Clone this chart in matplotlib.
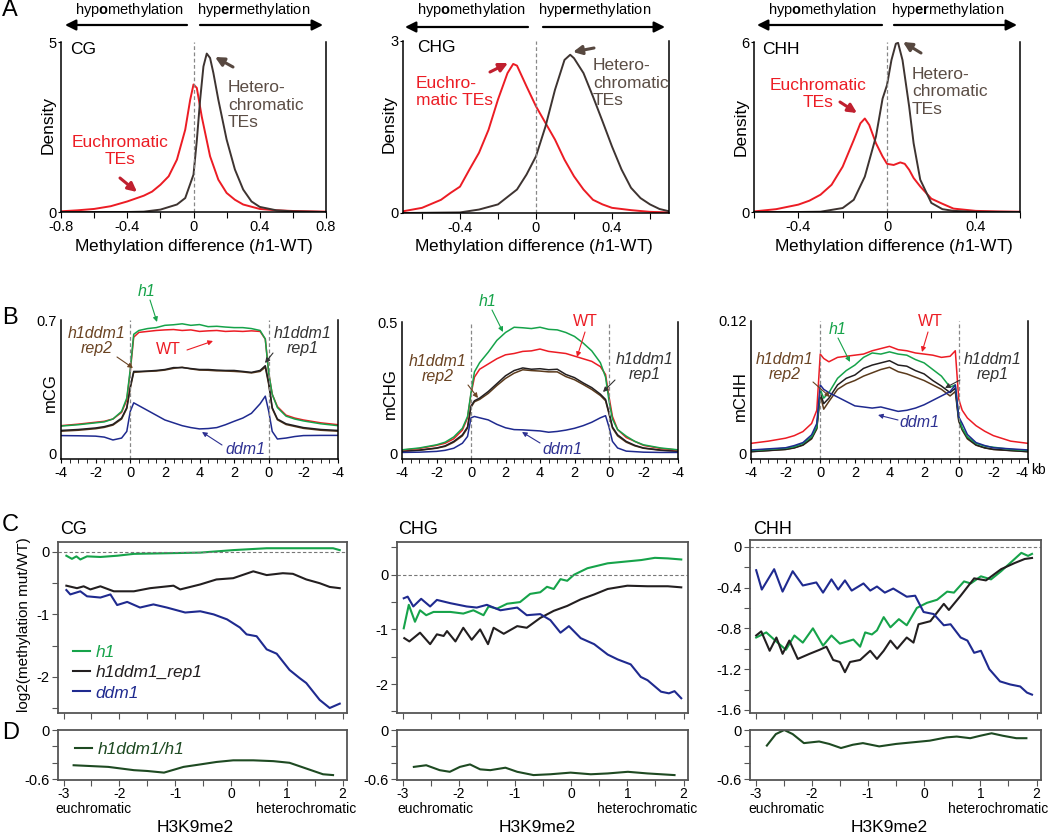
import numpy as np
import matplotlib
matplotlib.use('Agg')
import matplotlib.pyplot as plt
from matplotlib.ticker import MultipleLocator

plt.rcParams['font.family'] = ['Liberation Sans', 'DejaVu Sans']
plt.rcParams['mathtext.fontset'] = 'custom'
plt.rcParams['mathtext.rm'] = 'Liberation Sans'
plt.rcParams['mathtext.it'] = 'Liberation Sans:italic'
plt.rcParams['mathtext.bf'] = 'Liberation Sans:bold'
plt.rcParams['axes.unicode_minus'] = False

# ---------------- A : density of methylation difference (h1-WT)
cg_eu_x = [-0.8, -0.7, -0.6, -0.5, -0.4, -0.3, -0.25, -0.2, -0.15, -0.1, -0.05, -0.02, 0, 0.02, 0.05, 0.1, 0.15, 0.2, 0.25, 0.3, 0.4, 0.5, 0.6, 0.7, 0.8]
cg_eu_y = [0.02, 0.05, 0.09, 0.17, 0.31, 0.48, 0.6, 0.8, 1.05, 1.54, 2.42, 3.3, 3.75, 3.65, 2.8, 1.64, 0.95, 0.56, 0.36, 0.22, 0.09, 0.05, 0.03, 0.02, 0.01]
cg_he_x = [-0.8, -0.4, -0.3, -0.2, -0.1, -0.05, 0, 0.02, 0.04, 0.06, 0.08, 0.1, 0.12, 0.15, 0.2, 0.25, 0.3, 0.35, 0.4, 0.5, 0.6, 0.8]
cg_he_y = [0.0, 0.0, 0.01, 0.07, 0.22, 0.41, 1.1, 2.1, 3.3, 4.28, 4.66, 4.53, 4.09, 3.3, 2.13, 1.25, 0.66, 0.31, 0.15, 0.05, 0.02, 0.0]

chg_eu_x = [-0.7, -0.6, -0.5, -0.45, -0.4, -0.35, -0.3, -0.25, -0.2, -0.15, -0.12, -0.1, -0.05, 0, 0.05, 0.1, 0.15, 0.2, 0.25, 0.3, 0.35, 0.4, 0.5, 0.6, 0.7]
chg_eu_y = [0.03, 0.09, 0.23, 0.35, 0.46, 0.76, 1.05, 1.45, 1.98, 2.44, 2.6, 2.57, 2.21, 1.86, 1.57, 1.28, 0.93, 0.64, 0.41, 0.23, 0.15, 0.09, 0.05, 0.02, 0.01]
chg_he_x = [-0.7, -0.4, -0.3, -0.2, -0.1, -0.05, 0, 0.05, 0.1, 0.15, 0.18, 0.2, 0.25, 0.3, 0.35, 0.4, 0.45, 0.5, 0.55, 0.6, 0.65, 0.7]
chg_he_y = [0.0, 0.01, 0.06, 0.15, 0.41, 0.67, 0.99, 1.51, 2.15, 2.67, 2.76, 2.7, 2.44, 2.03, 1.6, 1.16, 0.76, 0.44, 0.26, 0.15, 0.07, 0.03]

chh_eu_x = [-0.6, -0.5, -0.4, -0.35, -0.3, -0.25, -0.2, -0.15, -0.12, -0.1, -0.08, -0.05, -0.02, 0, 0.03, 0.06, 0.08, 0.1, 0.12, 0.15, 0.2, 0.25, 0.3, 0.4, 0.5, 0.6]
chh_eu_y = [0.02, 0.1, 0.26, 0.4, 0.61, 0.96, 1.6, 2.54, 3.13, 3.3, 3.07, 2.43, 1.96, 1.7, 1.66, 1.75, 1.7, 1.49, 1.2, 0.9, 0.47, 0.29, 0.12, 0.04, 0.02, 0.01]
chh_he_x = [-0.6, -0.4, -0.3, -0.2, -0.15, -0.1, -0.05, -0.02, 0, 0.02, 0.04, 0.05, 0.07, 0.1, 0.12, 0.15, 0.2, 0.25, 0.3, 0.4, 0.6]
chh_he_y = [0.0, 0.0, 0.01, 0.14, 0.43, 1.25, 2.66, 4.0, 4.48, 5.36, 5.94, 5.97, 5.36, 3.72, 2.43, 1.14, 0.32, 0.1, 0.04, 0.01, 0.0]

# ---------------- B : metaplots over TEs (upstream -4..0, body 0..4..0, downstream 0..-4)
b_pos = [-4, -3, -2, -1.5, -1, -0.5, -0.2, 0, 0.2, 0.5, 1, 1.5, 2, 2.5, 3, 3.5, 4, 4.5, 5, 5.5, 6, 6.5, 7, 7.5, 7.8, 8, 8.2, 8.5, 9, 9.5, 10, 11, 12]
b_tick_pos = [-4, -2, 0, 2, 4, 6, 8, 10, 12]
b_tick_lab = ['-4', '-2', '0', '2', '4', '2', '0', '-2', '-4']

mcg_h1 = [.143, .15, .16, .165, .18, .22, .29, .44, .625, .645, .655, .66, .672, .675, .68, .672, .676, .665, .667, .663, .66, .66, .655, .645, .6, .42, .31, .24, .195, .18, .17, .155, .145]
mcg_wt = [.145, .153, .163, .168, .18, .215, .28, .43, .61, .635, .64, .645, .648, .65, .645, .648, .64, .643, .645, .64, .642, .64, .643, .64, .6, .42, .31, .245, .2, .185, .175, .16, .15]
mcg_rep1 = [.12, .125, .133, .14, .152, .185, .24, .35, .43, .43, .432, .435, .44, .45, .45, .445, .44, .44, .437, .435, .435, .43, .425, .435, .46, .37, .24, .18, .155, .145, .135, .125, .12]
mcg_rep2 = [.116, .121, .129, .136, .148, .18, .235, .34, .425, .427, .43, .432, .437, .446, .452, .443, .437, .436, .433, .432, .43, .427, .422, .43, .452, .36, .235, .176, .151, .141, .131, .121, .116]
mcg_ddm1 = [.093, .092, .09, .085, .07, .08, .115, .22, .265, .25, .225, .2, .175, .16, .145, .135, .128, .13, .135, .15, .168, .185, .21, .26, .3, .22, .115, .075, .08, .088, .093, .094, .094]

mchg_h1 = [.013, .02, .032, .042, .062, .095, .14, .23, .31, .345, .385, .43, .46, .48, .478, .475, .48, .472, .47, .46, .445, .42, .39, .345, .29, .2, .13, .09, .065, .045, .032, .02, .013]
mchg_wt = [.012, .018, .03, .038, .055, .088, .135, .225, .29, .32, .34, .36, .375, .38, .388, .39, .397, .388, .384, .38, .37, .36, .35, .33, .3, .215, .14, .09, .06, .045, .03, .018, .012]
mchg_rep1 = [.008, .012, .02, .028, .045, .07, .1, .18, .2, .21, .235, .265, .295, .315, .325, .32, .322, .318, .32, .3, .288, .268, .25, .225, .205, .155, .1, .07, .045, .03, .02, .012, .008]
mchg_rep2 = [.007, .011, .019, .026, .042, .066, .096, .175, .196, .205, .228, .258, .285, .305, .318, .315, .313, .31, .31, .292, .28, .262, .243, .22, .2, .15, .096, .066, .042, .028, .019, .011, .007]
mchg_ddm1 = [.003, .004, .007, .011, .019, .038, .064, .135, .14, .135, .127, .11, .097, .09, .089, .087, .085, .08, .083, .088, .095, .105, .118, .135, .143, .1, .045, .02, .008, .006, .004, .003, .003]

mchh_wt = [.009, .011, .0137, .016, .0197, .027, .039, .09, .086, .083, .087, .088, .089, .09, .093, .095, .097, .094, .093, .091, .09, .089, .087, .088, .093, .049, .039, .032, .025, .02, .016, .011, .009]
mchh_h1 = [.0025, .0035, .0046, .006, .009, .015, .024, .058, .05, .055, .068, .075, .08, .087, .091, .09, .092, .09, .089, .085, .082, .076, .07, .06, .062, .033, .023, .015, .009, .0065, .0055, .0035, .0025]
mchh_rep1 = [.0015, .0025, .0036, .005, .0076, .0137, .023, .055, .045, .05, .062, .068, .071, .077, .08, .082, .084, .08, .079, .075, .072, .066, .061, .055, .059, .03, .022, .014, .0076, .005, .0036, .0025, .0015]
mchh_rep2 = [.0014, .0024, .0034, .0048, .0073, .013, .022, .053, .04, .047, .058, .063, .066, .07, .073, .076, .078, .074, .072, .069, .066, .062, .058, .052, .056, .029, .021, .013, .0073, .0048, .0034, .0024, .0014]
mchh_ddm1 = [.003, .004, .005, .007, .0097, .0167, .027, .062, .058, .055, .051, .047, .043, .042, .041, .042, .04, .038, .039, .041, .044, .048, .052, .056, .062, .033, .027, .017, .0097, .007, .005, .004, .003]

# ---------------- C : log2(methylation mut/WT) along H3K9me2
c_cg_h1_x = [-2.95, -2.85, -2.77, -2.7, -2.58, -2.34, -2.04, -1.74, -1.15, -0.55, 0.04, 0.64, 1.23, 1.83, 1.95]
c_cg_h1_y = [-0.06, -0.11, -0.07, -0.12, -0.07, -0.08, -0.06, -0.03, -0.02, -0.01, 0.03, 0.06, 0.06, 0.06, 0.03]
c_cg_rep1_x = [-2.95, -2.76, -2.64, -2.52, -2.34, -2.1, -1.74, -1.45, -1.03, -0.91, -0.55, -0.26, 0.04, 0.4, 0.64, 0.93, 1.11, 1.35, 1.59, 1.77, 1.95]
c_cg_rep1_y = [-0.54, -0.58, -0.55, -0.6, -0.55, -0.63, -0.63, -0.58, -0.54, -0.6, -0.52, -0.44, -0.42, -0.31, -0.37, -0.34, -0.35, -0.44, -0.5, -0.56, -0.58]
c_cg_ddm1_x = [-2.95, -2.88, -2.7, -2.58, -2.34, -2.16, -2.04, -1.86, -1.63, -1.39, -1.15, -0.82, -0.55, -0.31, -0.07, 0.16, 0.28, 0.46, 0.64, 0.82, 1.05, 1.23, 1.35, 1.59, 1.77, 1.95]
c_cg_ddm1_y = [-0.61, -0.68, -0.63, -0.71, -0.73, -0.68, -0.85, -0.8, -0.89, -0.84, -0.89, -0.97, -0.95, -1.0, -1.08, -1.21, -1.32, -1.35, -1.56, -1.63, -1.89, -2.02, -2.1, -2.37, -2.5, -2.43]

c_chg_h1_x = [-2.98, -2.89, -2.78, -2.69, -2.58, -2.45, -2.15, -1.92, -1.74, -1.56, -1.47, -1.32, -1.14, -0.91, -0.73, -0.55, -0.43, -0.31, -0.19, -0.07, 0.05, 0.29, 0.65, 0.95, 1.25, 1.49, 1.72, 1.96]
c_chg_h1_y = [-0.98, -0.55, -0.86, -0.65, -0.74, -0.68, -0.68, -0.71, -0.65, -0.74, -0.58, -0.62, -0.53, -0.5, -0.35, -0.32, -0.22, -0.26, -0.08, -0.11, 0.0, 0.12, 0.21, 0.24, 0.27, 0.31, 0.3, 0.28]
c_chg_rep1_x = [-2.97, -2.88, -2.69, -2.51, -2.39, -2.27, -2.21, -2.06, -1.92, -1.77, -1.62, -1.48, -1.38, -1.2, -0.96, -0.79, -0.55, -0.31, -0.07, 0.17, 0.41, 0.65, 1.0, 1.36, 1.72, 1.96]
c_chg_rep1_y = [-1.16, -1.22, -1.06, -1.27, -1.09, -1.12, -1.03, -1.22, -0.97, -1.19, -1.0, -1.27, -0.97, -1.08, -0.94, -0.97, -0.79, -0.66, -0.57, -0.45, -0.36, -0.26, -0.2, -0.21, -0.21, -0.23]
c_chg_ddm1_x = [-2.98, -2.91, -2.81, -2.67, -2.51, -2.39, -2.15, -1.86, -1.68, -1.5, -1.26, -0.96, -0.79, -0.55, -0.37, -0.19, -0.04, 0.17, 0.41, 0.65, 0.83, 1.06, 1.24, 1.36, 1.6, 1.74, 1.84, 1.96]
c_chg_ddm1_y = [-0.43, -0.4, -0.58, -0.44, -0.58, -0.46, -0.52, -0.58, -0.6, -0.55, -0.65, -0.6, -0.74, -0.72, -0.83, -1.06, -0.94, -1.16, -1.27, -1.46, -1.55, -1.64, -1.87, -1.93, -2.14, -2.17, -2.13, -2.26]

c_chh_h1_x = [-2.99, -2.81, -2.63, -2.46, -2.31, -2.16, -1.98, -1.8, -1.65, -1.5, -1.26, -1.14, -1.05, -0.93, -0.84, -0.72, -0.6, -0.45, -0.31, -0.13, 0.05, 0.23, 0.41, 0.53, 0.71, 0.83, 1.01, 1.19, 1.37, 1.55, 1.73, 1.85, 1.92]
c_chh_h1_y = [-0.89, -0.84, -0.93, -1.01, -0.87, -0.94, -0.8, -0.97, -0.87, -0.95, -0.91, -0.98, -0.84, -0.86, -0.82, -0.69, -0.79, -0.71, -0.77, -0.6, -0.55, -0.52, -0.44, -0.45, -0.34, -0.36, -0.29, -0.32, -0.24, -0.15, -0.06, -0.09, -0.07]
c_chh_rep1_x = [-2.99, -2.9, -2.75, -2.63, -2.52, -2.4, -2.25, -2.04, -1.86, -1.74, -1.62, -1.5, -1.41, -1.32, -1.14, -0.96, -0.84, -0.72, -0.6, -0.48, -0.31, -0.19, -0.1, 0.11, 0.35, 0.44, 0.65, 0.89, 1.1, 1.37, 1.61, 1.79, 1.92]
c_chh_rep1_y = [-0.87, -0.83, -1.02, -0.89, -1.05, -0.92, -1.1, -1.05, -1.01, -0.98, -1.11, -1.13, -1.23, -1.13, -1.11, -1.02, -1.1, -1.02, -0.92, -1.0, -0.89, -0.94, -0.76, -0.73, -0.56, -0.62, -0.48, -0.31, -0.33, -0.22, -0.16, -0.12, -0.11]
c_chh_ddm1_x = [-2.99, -2.89, -2.67, -2.52, -2.34, -2.16, -1.92, -1.8, -1.65, -1.53, -1.41, -1.29, -1.08, -0.96, -0.84, -0.7, -0.55, -0.31, -0.16, -0.01, 0.17, 0.35, 0.47, 0.65, 0.77, 0.89, 1.01, 1.16, 1.35, 1.53, 1.71, 1.83, 1.92]
c_chh_ddm1_y = [-0.23, -0.42, -0.22, -0.44, -0.24, -0.38, -0.35, -0.45, -0.32, -0.42, -0.33, -0.43, -0.36, -0.43, -0.39, -0.45, -0.41, -0.49, -0.48, -0.64, -0.66, -0.77, -0.76, -0.89, -0.92, -1.04, -1.02, -1.2, -1.32, -1.35, -1.37, -1.43, -1.45]

# ---------------- D : h1ddm1/h1
d_cg_x = [-2.82, -2.2, -1.74, -1.5, -1.2, -0.85, -0.55, -0.26, 0.04, 0.4, 0.76, 1.05, 1.35, 1.65, 1.83]
d_cg_y = [-0.43, -0.45, -0.49, -0.5, -0.52, -0.45, -0.42, -0.39, -0.37, -0.37, -0.38, -0.4, -0.47, -0.54, -0.55]
d_chg_x = [-2.8, -2.58, -2.34, -2.16, -1.98, -1.8, -1.62, -1.44, -1.17, -0.96, -0.67, -0.37, -0.01, 0.35, 0.65, 1.01, 1.36, 1.84]
d_chg_y = [-0.45, -0.43, -0.49, -0.51, -0.45, -0.42, -0.48, -0.49, -0.46, -0.51, -0.55, -0.54, -0.52, -0.54, -0.53, -0.51, -0.53, -0.55]
d_chh_x = [-2.8, -2.64, -2.49, -2.34, -2.14, -1.87, -1.69, -1.48, -1.27, -1.09, -0.8, -0.5, -0.2, 0.1, 0.4, 0.58, 0.82, 1.0, 1.2, 1.4, 1.64, 1.82]
d_chh_y = [-0.19, -0.05, 0.0, -0.05, -0.16, -0.14, -0.17, -0.22, -0.18, -0.16, -0.2, -0.17, -0.15, -0.13, -0.09, -0.08, -0.1, -0.07, -0.04, -0.07, -0.1, -0.1]

RED = '#ec1c24'
HET = '#3e3431'
HET_TXT = '#5b4d45'
GREEN = '#16a34a'
BLUE = '#1f2a8f'
BLACK = '#231f20'
BROWN = '#5a3a1c'
DGREEN = '#1e4a22'

W, H = 1050, 836
fig = plt.figure(figsize=(10.5, 8.36), dpi=100)


def box(l, t, r, b):
    return [l / W, 1 - b / H, (r - l) / W, (b - t) / H]


def P(x, y):
    return (x / W, 1 - y / H)


def arrow(tail, tip, color, lw, ms):
    fig.add_artist(matplotlib.patches.FancyArrowPatch(
        P(*tail), P(*tip), transform=fig.transFigure, arrowstyle='-|>',
        mutation_scale=ms, lw=lw, color=color, shrinkA=0, shrinkB=0))


# ================= A
a_panels = [
    ('CG', box(61, 42, 326, 212), (-0.8, 0.8), 5, [-0.8, -0.6, -0.4, -0.2, 0, 0.2, 0.4, 0.6, 0.8],
     ['-0.8', '', '-0.4', '', '0', '', '0.4', '', '0.8'], cg_eu_x, cg_eu_y, cg_he_x, cg_he_y),
    ('CHG', box(403, 41, 669, 213), (-0.7, 0.7), 3, [-0.6, -0.4, -0.2, 0, 0.2, 0.4, 0.6],
     ['', '-0.4', '', '0', '', '0.4', ''], chg_eu_x, chg_eu_y, chg_he_x, chg_he_y),
    ('CHH', box(754, 42, 1020, 212), (-0.6, 0.6), 6, [-0.6, -0.4, -0.2, 0, 0.2, 0.4, 0.6],
     ['', '-0.4', '', '0', '', '0.4', ''], chh_eu_x, chh_eu_y, chh_he_x, chh_he_y),
]
for name, rect, xl, ymax, xt, xtl, ex, ey, hx, hy in a_panels:
    ax = fig.add_axes(rect)
    ax.plot(ex, ey, color=RED, lw=1.4)
    ax.plot(hx, hy, color=HET, lw=1.4)
    ax.axvline(0, color='#888888', ls=(0, (3, 2)), lw=0.9)
    ax.set_xlim(*xl)
    ax.set_ylim(0, ymax)
    ax.set_xticks(xt)
    ax.set_xticklabels(xtl)
    ax.set_yticks([0, ymax])
    ax.set_yticklabels(['0', str(ymax)])
    ax.spines['top'].set_visible(False)
    for s in ['left', 'right', 'bottom']:
        ax.spines[s].set_linewidth(1.1)
    ax.tick_params(axis='x', direction='out', length=4, labelsize=10.5, pad=2)
    ax.tick_params(axis='y', direction='out', length=2, labelsize=10.5, pad=1)

# A texts
for cx in [194, 534, 894]:
    fig.text(*P(cx, 247), 'Methylation difference ($\\mathit{h1}$-WT)', ha='center', va='center', fontsize=12.5)
for x, y in [(48, 125), (389, 124), (741, 127)]:
    fig.text(*P(x, y), 'Density', rotation=90, ha='center', va='center', fontsize=12.5)
for lx, rx, l0, l1, r0, r1, ya in [(129, 254, 187, 65, 200, 323, 25),
                                   (471, 595, 528, 405, 543, 665, 27),
                                   (822, 948, 882, 757, 894, 1017, 25)]:
    fig.text(*P(lx, 10), 'hyp$\\mathbf{o}$methylation', ha='center', va='center', fontsize=10.5)
    fig.text(*P(rx, 10), 'hyp$\\mathbf{er}$methylation', ha='center', va='center', fontsize=10.5)
    arrow((l0, ya), (l1, ya), 'black', 1.6, 16)
    arrow((r0, ya), (r1, ya), 'black', 1.6, 16)

fig.text(*P(70, 50), 'CG', ha='left', va='center', fontsize=12.5)
fig.text(*P(417, 48), 'CHG', ha='left', va='center', fontsize=12.5)
fig.text(*P(762, 50), 'CHH', ha='left', va='center', fontsize=12.5)
fig.text(*P(228, 105), 'Hetero-\nchromatic\nTEs', ha='left', va='center', fontsize=12.5, color=HET_TXT)
fig.text(*P(593, 83), 'Hetero-\nchromatic\nTEs', ha='left', va='center', fontsize=12.5, color=HET_TXT)
fig.text(*P(912, 92), 'Hetero-\nchromatic\nTEs', ha='left', va='center', fontsize=12.5, color=HET_TXT)
fig.text(*P(120, 151), 'Euchromatic\nTEs', ha='center', va='center', fontsize=12.5, color=RED)
fig.text(*P(416, 92), 'Euchro-\nmatic TEs', ha='left', va='center', fontsize=12.5, color=RED)
fig.text(*P(818, 94), 'Euchromatic\nTEs', ha='center', va='center', fontsize=12.5, color=RED)
arrow((233, 67), (215, 57), '#574840', 2.2, 13)
arrow((594, 48), (573, 52), '#574840', 2.2, 13)
arrow((921, 53), (903, 42), '#574840', 2.2, 13)
arrow((120, 178), (137, 192), '#c0202f', 2.2, 13)
arrow((490, 72), (508, 63), '#c0202f', 2.2, 13)
arrow((840, 102), (857, 113), '#c0202f', 2.2, 13)

# ================= B
b_panels = [
    ('mCG', box(61, 320, 338, 459), (-0.03, 0.7), '0.7', (50, 393),
     [mcg_rep2, mcg_rep1, mcg_wt, mcg_h1, mcg_ddm1]),
    ('mCHG', box(402, 322, 678, 459), (-0.022, 0.5), '0.5', (390, 394),
     [mchg_rep2, mchg_rep1, mchg_wt, mchg_h1, mchg_ddm1]),
    ('mCHH', box(751, 321, 1028, 459), (-0.0052, 0.12), '0.12', (740, 396),
     [mchh_rep2, mchh_rep1, mchh_wt, mchh_h1, mchh_ddm1]),
]
b_colors = [BROWN, BLACK, RED, GREEN, BLUE]
for k, (name, rect, yl, toplab, lab_xy, series) in enumerate(b_panels):
    ax = fig.add_axes(rect)
    for vals, c in zip(series, b_colors):
        ax.plot(b_pos, vals, color=c, lw=1.1)
    ax.axvline(0, color='#888888', ls=(0, (3, 2)), lw=0.9)
    ax.axvline(8, color='#888888', ls=(0, (3, 2)), lw=0.9)
    ax.set_xlim(-4, 12)
    ax.set_ylim(*yl)
    ax.set_xticks(b_tick_pos)
    ax.set_xticklabels(b_tick_lab)
    ax.xaxis.set_minor_locator(MultipleLocator(0.5))
    ax.set_yticks([0, yl[1]])
    ax.set_yticklabels(['0', toplab])
    ax.spines['top'].set_visible(False)
    for s in ['left', 'right', 'bottom']:
        ax.spines[s].set_linewidth(1.1)
    ax.tick_params(axis='x', which='both', direction='out', length=3, labelsize=10.5, pad=2)
    ax.tick_params(axis='y', direction='out', length=0, labelsize=10.5, pad=3)
    if k == 2:
        ax.get_xticklabels()[-1].set_ha('right')
    fig.text(*P(*lab_xy), name, rotation=90, ha='center', va='center', fontsize=12)
fig.text(*P(1031, 470), 'kb', ha='left', va='center', fontsize=10)

b_notes = [
    ('h1', (147, 292), (150, 300), (157, 322), GREEN, 'italic'),
    ('h1ddm1\nrep2', (97, 341), (117, 357), (133, 368), '#6b4423', 'italic'),
    ('WT', (168, 350), (187, 350), (213, 341), RED, 'normal'),
    ('h1ddm1\nrep1', (303, 341), (273, 353), (265, 363), '#333333', 'italic'),
    ('ddm1', (245, 450), (222, 445), (202, 432), '#2e3192', 'italic'),
    ('h1', (488, 302), (492, 310), (503, 332), GREEN, 'italic'),
    ('WT', (585, 322), (585, 332), (577, 357), RED, 'normal'),
    ('h1ddm1\nrep2', (438, 369), (468, 385), (478, 398), '#6b4423', 'italic'),
    ('h1ddm1\nrep1', (645, 367), (615, 380), (603, 392), '#333333', 'italic'),
    ('ddm1', (562, 450), (540, 443), (522, 432), '#2e3192', 'italic'),
    ('h1', (838, 330), (838, 338), (850, 362), GREEN, 'italic'),
    ('WT', (930, 322), (928, 332), (922, 352), RED, 'normal'),
    ('h1ddm1\nrep2', (785, 367), (813, 382), (830, 397), '#6b4423', 'italic'),
    ('h1ddm1\nrep1', (993, 367), (960, 380), (945, 388), '#333333', 'italic'),
    ('ddm1', (919, 423), (898, 420), (878, 415), '#2e3192', 'italic'),
]
for txt, xy, tail, tip, c, st in b_notes:
    fig.text(*P(*xy), txt, ha='center', va='center', fontsize=11.5, color=c, style=st,
             linespacing=1.05)
    arrow(tail, tip, c, 0.8, 7)

# ================= C and D
c_panels = [
    ('CG', box(58, 542, 347, 713), (-2.58, 0.16), [-2.5, -2, -1.5, -1, -0.5, 0],
     ['', '-2', '', '-1', '', '0'], (60, 530),
     [(c_cg_h1_x, c_cg_h1_y), (c_cg_rep1_x, c_cg_rep1_y), (c_cg_ddm1_x, c_cg_ddm1_y)]),
    ('CHG', box(397, 542, 688, 713), (-2.53, 0.6), [-2.5, -2, -1.5, -1, -0.5, 0, 0.5],
     ['', '-2', '', '-1', '', '0', ''], (398, 529),
     [(c_chg_h1_x, c_chg_h1_y), (c_chg_rep1_x, c_chg_rep1_y), (c_chg_ddm1_x, c_chg_ddm1_y)]),
    ('CHH', box(750, 540, 1041, 713), (-1.63, 0.066), [-1.6, -1.4, -1.2, -1.0, -0.8, -0.6, -0.4, -0.2, 0],
     ['-1.6', '', '-1.2', '', '-0.8', '', '-0.4', '', '0'], (753, 529),
     [(c_chh_h1_x, c_chh_h1_y), (c_chh_rep1_x, c_chh_rep1_y), (c_chh_ddm1_x, c_chh_ddm1_y)]),
]
d_panels = [
    (box(58, 730, 347, 780), d_cg_x, d_cg_y, 195, 55, 356),
    (box(397, 730, 688, 780), d_chg_x, d_chg_y, 537, 397, 697),
    (box(750, 730, 1041, 780), d_chh_x, d_chh_y, 889, 748, 1048),
]
x_ticks = [-3, -2.5, -2, -1.5, -1, -0.5, 0, 0.5, 1, 1.5, 2]
x_tick_lab = ['-3', '', '-2', '', '-1', '', '0', '', '1', '', '2']
c_names = ['h1', 'h1ddm1_rep1', 'ddm1']
c_colors = [GREEN, BLACK, BLUE]
SP = '#555555'


def frame(ax):
    for s in ax.spines.values():
        s.set_color(SP)
        s.set_linewidth(1.3)
    ax.tick_params(which='both', direction='out', length=4, color=SP, labelsize=10.5, pad=2)


for i, (name, rect, yl, yt, ytl, title_xy, lines) in enumerate(c_panels):
    ax = fig.add_axes(rect)
    handles = []
    for (lx, ly), c, n in zip(lines, c_colors, c_names):
        h, = ax.plot(lx, ly, color=c, lw=1.5, label=n)
        handles.append(h)
    ax.axhline(0, color='#777777', ls=(0, (3, 2)), lw=0.8)
    ax.set_xlim(-3.1, 2.08)
    ax.set_ylim(*yl)
    ax.set_yticks(yt)
    ax.set_yticklabels(ytl)
    ax.set_xticks(x_ticks)
    ax.set_xticklabels([])
    frame(ax)
    fig.text(*P(*title_xy), name, ha='left', va='center', fontsize=13)
    if i == 0:
        leg = ax.legend(handles=handles, loc='upper left', bbox_to_anchor=P(64, 636),
                        bbox_transform=fig.transFigure, frameon=False, handlelength=1.0,
                        handletextpad=0.3, labelspacing=0.3, borderpad=0,
                        prop={'style': 'italic', 'size': 12.5})
        for t, c in zip(leg.get_texts(), c_colors):
            t.set_color(c)

for i, (rect, dx, dy, hx, ex, rx) in enumerate(d_panels):
    ax = fig.add_axes(rect)
    h, = ax.plot(dx, dy, color=DGREEN, lw=1.5, label='h1ddm1/h1')
    ax.set_xlim(-3.1, 2.08)
    ax.set_ylim(-0.61, 0.0)
    ax.set_yticks([-0.6, -0.4, -0.2, 0])
    ax.set_yticklabels(['-0.6', '', '', '0'])
    ax.set_xticks(x_ticks)
    ax.set_xticklabels(x_tick_lab)
    frame(ax)
    ax.tick_params(axis='x', labelsize=10, pad=1)
    fig.text(*P(ex, 809), 'euchromatic', ha='left', va='center', fontsize=10)
    fig.text(*P(rx, 809), 'heterochromatic', ha='right', va='center', fontsize=10)
    fig.text(*P(hx, 828), 'H3K9me2', ha='center', va='center', fontsize=12.5)
    if i == 0:
        leg = ax.legend(handles=[h], loc='upper left', bbox_to_anchor=P(66, 733),
                        bbox_transform=fig.transFigure, frameon=False, handlelength=1.0,
                        handletextpad=0.3, borderpad=0,
                        prop={'style': 'italic', 'size': 12.5})
        leg.get_texts()[0].set_color(DGREEN)

fig.text(*P(24, 625), 'log2(methylation mut/WT)', rotation=90, ha='center', va='center', fontsize=11)

# panel letters
for letter, y in [('A', 10), ('B', 318), ('C', 525), ('D', 733)]:
    fig.text(*P(2, y), letter, ha='left', va='center', fontsize=17)

fig.savefig('out.png', dpi=100)
